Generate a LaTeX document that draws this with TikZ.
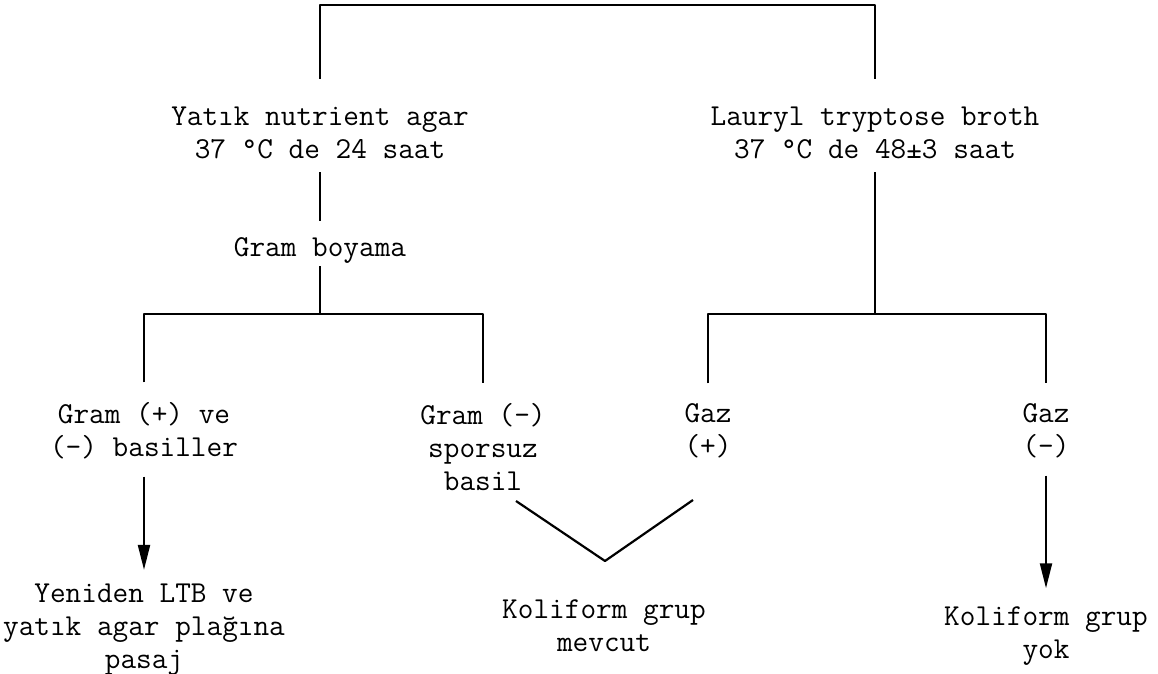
\documentclass[tikz,border=0pt]{standalone}
\usetikzlibrary{arrows.meta}

\begin{document}
\begin{tikzpicture}[
        x = 0.5pt, y = -0.5pt,
        line join=round,
        txt/.style = {align=center, inner sep=0pt, font=\fontsize{15.2}{16.5}\selectfont\ttfamily},
        link/.style = {line width=1.1pt},
        arrow/.style = {link, -{Triangle[length=12.5pt, width=6pt]}}
    ]
    \useasboundingbox (0, 0) rectangle (1158, 674);

    \node[txt] (yatik)   at (320, 133)  {Yatık nutrient agar\\37 °C de 24 saat};
    \node[txt] (lauryl)  at (875, 133)  {Lauryl tryptose broth\\37 °C de 48±3 saat};
    \node[txt] (gram)    at (320, 250)  {Gram boyama};
    \node[txt] (gpos)    at (144, 431)  {Gram (+) ve\\(-) basiller};
    \node[txt] (gneg)    at (483, 447)  {Gram (-)\\sporsuz\\basil};
    \node[txt] (gazp)    at (708, 431)  {Gaz\\(+)};
    \node[txt] (gazn)    at (1046, 431) {Gaz\\(-)};
    \node[txt] (yeniden) at (144, 630)  {Yeniden LTB ve\\yatık agar plağına\\pasaj};
    \node[txt] (kolp)    at (604, 626)  {Koliform grup\\mevcut};
    \node[txt] (koln)    at (1046, 636) {Koliform grup\\yok};

    \coordinate (root) at (597, 5);
    \coordinate (jl) at (320, 314);
    \coordinate (jr) at (875, 314);
    \coordinate (vl) at (516, 501);
    \coordinate (vb) at (605, 561);
    \coordinate (vr) at (693, 500);

    \draw[link] ([yshift=14pt]yatik.north) |- (root) -| ([yshift=14pt]lauryl.north);

    \draw[link, shorten <=6.5pt, shorten >=8pt] (yatik) -- (gram);
    \draw[link, shorten <=1.5pt] (gram) -- (jl);
    \draw[link] ([yshift=10pt]gpos.north) |- (jl) -| ([yshift=10pt]gneg.north);

    \draw[link, shorten <=6.5pt] (lauryl) -- (jr);
    \draw[link] ([yshift=10pt]gazp.north) |- (jr) -| ([yshift=10pt]gazn.north);

    \draw[arrow, shorten <=8.5pt, shorten >=7pt] (gpos) -- (yeniden);
    \draw[arrow, shorten <=8.5pt, shorten >=9pt] (gazn) -- (koln);
    \draw[link] (vl) -- (vb) -- (vr);

\end{tikzpicture}
\end{document}
